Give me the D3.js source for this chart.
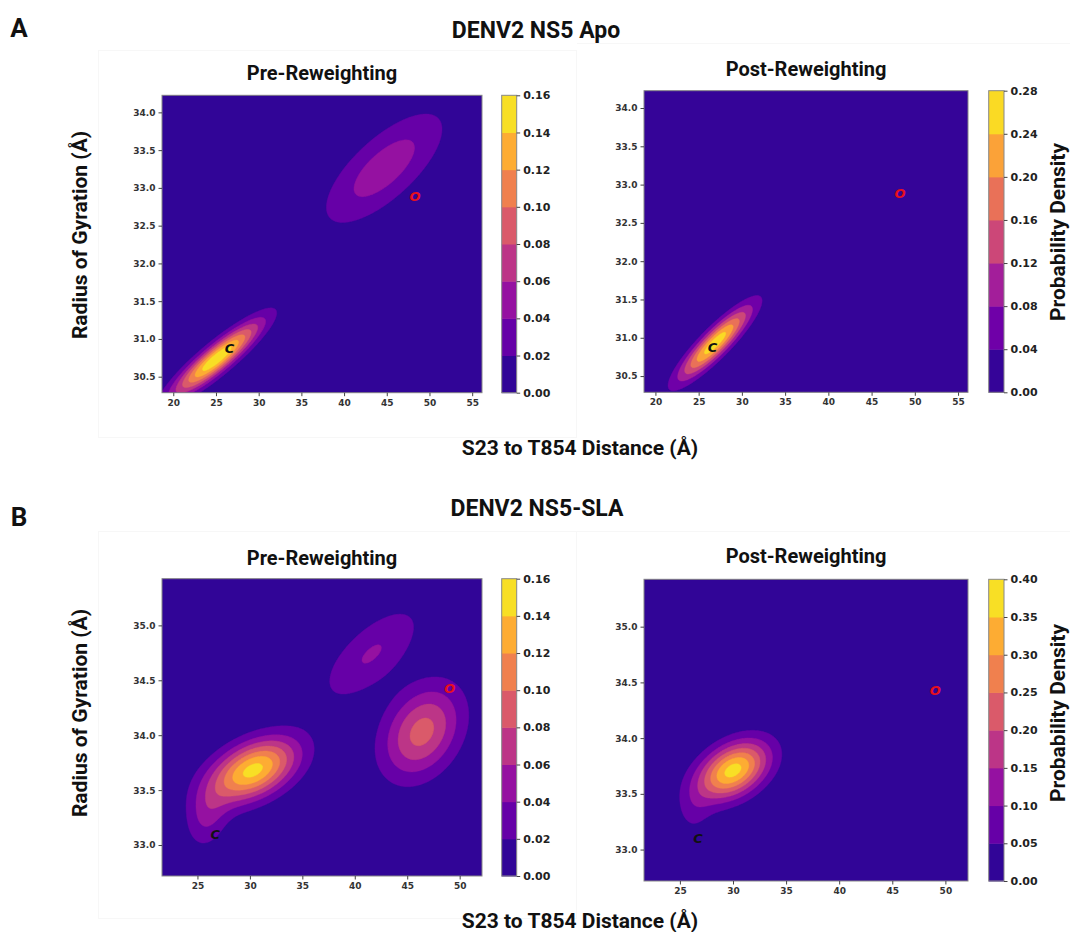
<!DOCTYPE html>
<html>
<head>
<meta charset="utf-8">
<script src="https://cdn.jsdelivr.net/npm/d3@7"></script>
<style>
  body { margin: 0; background: #fff; }
  svg { display: block; }
  .big { font-family: Roboto, "Noto Sans", sans-serif; font-weight: 700; fill: #111; }
  .tick text { font-family: "DejaVu Sans", sans-serif; font-weight: bold; }
</style>
</head>
<body>
<svg id="fig" width="1070" height="932"></svg>
<script>
// axis ranges and ticks
var apoXRange = [18.68, 56.15], apoYRange = [30.288, 34.226];
var apoXTicks = [20, 25, 30, 35, 40, 45, 50, 55];
var apoYTicks = [30.5, 31.0, 31.5, 32.0, 32.5, 33.0, 33.5, 34.0];
var slaXRange = [21.62, 52.13], slaYRange = [32.718, 35.425];
var slaXTicks = [25, 30, 35, 40, 45, 50];
var slaYTicks = [33.0, 33.5, 34.0, 34.5, 35.0];

// contour levels (= colorbar ticks)
var levelsApoPre  = [0, 0.02, 0.04, 0.06, 0.08, 0.10, 0.12, 0.14, 0.16];
var levelsApoPost = [0, 0.04, 0.08, 0.12, 0.16, 0.20, 0.24, 0.28];
var levelsSlaPre  = [0, 0.02, 0.04, 0.06, 0.08, 0.10, 0.12, 0.14, 0.16];
var levelsSlaPost = [0, 0.05, 0.10, 0.15, 0.20, 0.25, 0.30, 0.35, 0.40];

// density peaks estimated from the contours: [x, y, sdX, sdY, corr, height]
var peaksApoPre  = [[25.1, 30.74, 3.45, 0.33, 0.90, 0.158],
                    [44.7, 33.26, 4.9, 0.52, 0.72, 0.052]];
var peaksApoPost = [[26.9, 30.93, 2.8, 0.32, 0.89, 0.265]];
var peaksSlaPre  = [[30.3, 33.68, 2.9, 0.20, 0.45, 0.147],
                    [25.9, 33.25, 1.4, 0.20, 0.20, 0.038],
                    [46.4, 34.03, 2.6, 0.29, 0.30, 0.088],
                    [41.6, 34.74, 3.3, 0.30, 0.68, 0.0415]];
var peaksSlaPost = [[30.0, 33.71, 2.3, 0.18, 0.40, 0.37],
                    [26.3, 33.35, 1.2, 0.18, 0.10, 0.05]];

// closed / open reference states
var markersApo = [["C", 26.6, 30.87], ["O", 48.3, 32.89]];
var markersSla = [["C", 26.7, 33.10], ["O", 49.05, 34.43]];

var panels = [
  {id: "apoPre", box: [162, 95.3, 482, 392.7], cb: [501.7, 516.7], title: "Pre-Reweighting", titleY: 73,
   xr: apoXRange, yr: apoYRange, xt: apoXTicks, yt: apoYTicks, levels: levelsApoPre, peaks: peaksApoPre, marks: markersApo},
  {id: "apoPost", box: [644, 90.7, 968, 392.3], cb: [988.7, 1004], title: "Post-Reweighting", titleY: 69,
   xr: apoXRange, yr: apoYRange, xt: apoXTicks, yt: apoYTicks, levels: levelsApoPost, peaks: peaksApoPost, marks: markersApo},
  {id: "slaPre", box: [162, 578.7, 482, 876], cb: [501.7, 516.7], title: "Pre-Reweighting", titleY: 558,
   xr: slaXRange, yr: slaYRange, xt: slaXTicks, yt: slaYTicks, levels: levelsSlaPre, peaks: peaksSlaPre, marks: markersSla},
  {id: "slaPost", box: [644, 579.3, 968, 881], cb: [988.7, 1004], title: "Post-Reweighting", titleY: 556,
   xr: slaXRange, yr: slaYRange, xt: slaXTicks, yt: slaYTicks, levels: levelsSlaPost, peaks: peaksSlaPost, marks: markersSla}
];

var svg = d3.select("#fig");

// very faint panel frames
svg.append("rect").attr("x", 98.5).attr("y", 50.5).attr("width", 478).attr("height", 387)
  .attr("fill", "none").attr("stroke", "#f7f7f7");
svg.append("line").attr("x1", 577).attr("x2", 1070).attr("y1", 43.5).attr("y2", 43.5).attr("stroke", "#f7f7f7");
svg.append("rect").attr("x", 98.5).attr("y", 531.5).attr("width", 478).attr("height", 387)
  .attr("fill", "none").attr("stroke", "#f7f7f7");
svg.append("line").attr("x1", 577).attr("x2", 1070).attr("y1", 531.5).attr("y2", 531.5).attr("stroke", "#f7f7f7");

function density(peaks, x, y) {
  var v = 0;
  peaks.forEach(function(p) {
    var dx = (x - p[0]) / p[2], dy = (y - p[1]) / p[3], r = p[4];
    var q = (dx*dx + dy*dy - 2*r*dx*dy) / (1 - r*r);
    v += p[5] * Math.exp(-q/2);
  });
  return v;
}

function drawPanel(p) {
  var x0 = p.box[0], y0 = p.box[1], x1 = p.box[2], y1 = p.box[3];
  var w = x1 - x0, h = y1 - y0;
  var xs = d3.scaleLinear().domain(p.xr).range([x0, x1]);
  var ys = d3.scaleLinear().domain(p.yr).range([y1, y0]);
  var nb = p.levels.length - 1;
  var color = function(i) { return d3.interpolatePlasma((i + 0.5) / nb); };

  var g = svg.append("g");
  g.append("clipPath").attr("id", "clip-" + p.id)
    .append("rect").attr("x", x0).attr("y", y0).attr("width", w).attr("height", h);

  // density grid
  var n = 260, m = 240, values = new Array(n*m);
  for (var j = 0; j < m; j++) {
    var yy = p.yr[1] - (j + 0.5) / m * (p.yr[1] - p.yr[0]);
    for (var i = 0; i < n; i++) {
      var xx = p.xr[0] + (i + 0.5) / n * (p.xr[1] - p.xr[0]);
      values[j*n + i] = density(p.peaks, xx, yy);
    }
  }
  var contours = d3.contours().size([n, m]).thresholds(p.levels.slice(0, -1))(values);
  var path = d3.geoPath(d3.geoTransform({
    point: function(gx, gy) { this.stream.point(x0 + gx / n * w, y0 + gy / m * h); }
  }));

  g.append("rect").attr("x", x0).attr("y", y0).attr("width", w).attr("height", h).attr("fill", color(0));
  g.append("g").attr("clip-path", "url(#clip-" + p.id + ")")
    .selectAll("path").data(contours).join("path")
    .attr("d", path)
    .attr("fill", function(d, i) { return color(i); })
    .attr("stroke", function(d, i) { return color(i); })
    .attr("stroke-width", 0.4);

  // markers
  g.selectAll("text.mark").data(p.marks).join("text")
    .attr("class", "mark")
    .attr("x", function(d) { return xs(d[1]); })
    .attr("y", function(d) { return ys(d[2]); })
    .attr("text-anchor", "middle").attr("dy", "0.36em")
    .attr("font-family", "DejaVu Sans, sans-serif").attr("font-style", "italic").attr("font-weight", "bold")
    .attr("font-size", 13)
    .attr("fill", function(d) { return d[0] === "O" ? "#e8101c" : "#111"; })
    .text(function(d) { return d[0]; });

  // frame
  g.append("rect").attr("x", x0).attr("y", y0).attr("width", w).attr("height", h)
    .attr("fill", "none").attr("stroke", "#888").attr("stroke-width", 1);

  // axes
  var ax = g.append("g").attr("transform", "translate(0," + y1 + ")")
    .call(d3.axisBottom(xs).tickValues(p.xt).tickSize(3.5).tickPadding(3).tickFormat(d3.format("d")));
  var ay = g.append("g").attr("transform", "translate(" + x0 + ",0)")
    .call(d3.axisLeft(ys).tickValues(p.yt).tickSize(3.5).tickPadding(3).tickFormat(d3.format(".1f")));
  [ax, ay].forEach(function(a) {
    a.select(".domain").remove();
    a.selectAll(".tick line").attr("stroke", "#444");
    a.selectAll(".tick text").attr("font-size", 9).attr("fill", "#333");
  });

  // colorbar
  var cs = d3.scaleLinear().domain([p.levels[0], p.levels[nb]]).range([y1, y0]);
  var cb = g.append("g");
  cb.selectAll("rect").data(d3.range(nb)).join("rect")
    .attr("x", p.cb[0]).attr("width", p.cb[1] - p.cb[0])
    .attr("y", function(i) { return cs(p.levels[i+1]); })
    .attr("height", function(i) { return cs(p.levels[i]) - cs(p.levels[i+1]) + 0.5; })
    .attr("fill", function(i) { return color(i); });
  cb.append("rect").attr("x", p.cb[0]).attr("y", y0).attr("width", p.cb[1] - p.cb[0]).attr("height", h)
    .attr("fill", "none").attr("stroke", "#888");
  var ac = cb.append("g").attr("transform", "translate(" + p.cb[1] + ",0)")
    .call(d3.axisRight(cs).tickValues(p.levels).tickSize(3.5).tickPadding(3).tickFormat(d3.format(".2f")));
  ac.select(".domain").remove();
  ac.selectAll(".tick line").attr("stroke", "#444");
  ac.selectAll(".tick text").attr("font-size", 11).attr("fill", "#222");

  // subplot title
  svg.append("text").attr("class", "big").attr("x", (x0 + x1) / 2).attr("y", p.titleY)
    .attr("text-anchor", "middle").attr("dy", "0.35em").attr("font-size", 20).text(p.title);
}

panels.forEach(drawPanel);

// figure-level text
function label(x, y, size, txt, rot) {
  var t = svg.append("text").attr("class", "big").attr("text-anchor", "middle").attr("dy", "0.35em")
    .attr("font-size", size).text(txt);
  if (rot) t.attr("transform", "translate(" + x + "," + y + ") rotate(-90)");
  else t.attr("x", x).attr("y", y);
}
label(19, 28, 26, "A");
label(19, 517, 26, "B");
label(536, 30, 23, "DENV2 NS5 Apo");
label(537, 508, 23, "DENV2 NS5-SLA");
label(580, 448, 21, "S23 to T854 Distance (Å)");
label(580, 921, 21, "S23 to T854 Distance (Å)");
label(80, 235, 21, "Radius of Gyration (Å)", true);
label(80, 713, 21, "Radius of Gyration (Å)", true);
label(1058, 232, 21, "Probability Density", true);
label(1058, 713, 21, "Probability Density", true);
</script>
</body>
</html>
